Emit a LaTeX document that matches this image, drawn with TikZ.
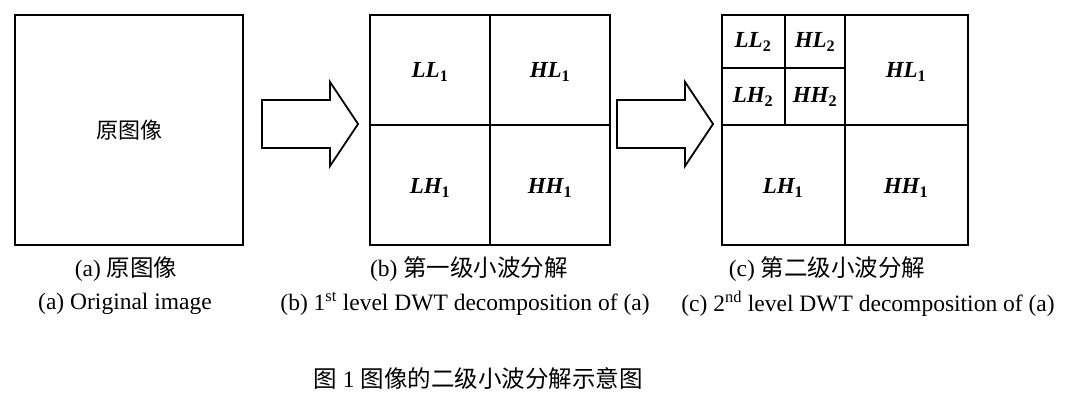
\documentclass[tikz,border=0pt]{standalone}
\usepackage{fontspec}
\setmainfont{Liberation Serif}
\newfontfamily\cjk{Noto Sans CJK SC}
\newcommand{\bandlab}[2]{#1\textsubscript{\upshape #2}}
\begin{document}
\begin{tikzpicture}[x=1pt,y=-1pt,
  box/.style={draw,line width=1.8pt},
  arr/.style={draw,line width=1.8pt,fill=white},
  sub/.style={font=\fontsize{23}{26}\selectfont\bfseries\itshape},
  lab/.style={font=\fontsize{23.5}{27}\selectfont}]
\useasboundingbox (0,0) rectangle (1075,402);
% (a)
\node[box,minimum width=228pt,minimum height=230pt,inner sep=0pt] (A) at (129,130) {\fontsize{22}{26}\selectfont\cjk 原图像};
% arrows
\draw[arr] (262,100) -- (330,100) -- (330,82) -- (358,124) -- (330,166) -- (330,148) -- (262,148) -- cycle;
\draw[arr] (617,100) -- (685,100) -- (685,82) -- (713,124) -- (685,166) -- (685,148) -- (617,148) -- cycle;
% (b)
\draw[box] (370,15) rectangle (610,245);
\draw[box] (370,125) -- (610,125) (490,15) -- (490,245);
\node[sub] (b1) at (430,72) {\bandlab{LL}{1}};
\node[sub] (b2) at (550,72) {\bandlab{HL}{1}};
\node[sub] (b3) at (430,188) {\bandlab{LH}{1}};
\node[sub] (b4) at (550,188) {\bandlab{HH}{1}};
% (c)
\draw[box] (722,15) rectangle (968,245);
\draw[box] (722,125) -- (968,125) (845,15) -- (845,245);
\draw[box] (722,68) -- (845,68) (785,15) -- (785,125);
\node[sub] (c1) at (753,42) {\bandlab{LL}{2}};
\node[sub] (c2) at (815,42) {\bandlab{HL}{2}};
\node[sub] (c3) at (753,97) {\bandlab{LH}{2}};
\node[sub] (c4) at (815,97) {\bandlab{HH}{2}};
\node[sub] (c5) at (906,72) {\bandlab{HL}{1}};
\node[sub] (c6) at (783,188) {\bandlab{LH}{1}};
\node[sub] (c7) at (906,188) {\bandlab{HH}{1}};
% labels
\node[lab] (la1) at (126,269) {(a) {\cjk 原图像}};
\node[lab] (la2) at (125,304) {(a) Original image};
\node[lab] (lb1) at (469,269) {(b) {\cjk 第一级小波分解}};
\node[lab] (lb2) at (465,304) {(b) 1\textsuperscript{st} level DWT decomposition of (a)};
\node[lab] (lc1) at (827,269) {(c) {\cjk 第二级小波分解}};
\node[lab] (lc2) at (868,304) {(c) 2\textsuperscript{nd} level DWT decomposition of (a)};
\node[lab] (cap) at (478,378) {{\cjk 图} 1 {\cjk 图像的二级小波分解示意图}};
\end{tikzpicture}
\end{document}
